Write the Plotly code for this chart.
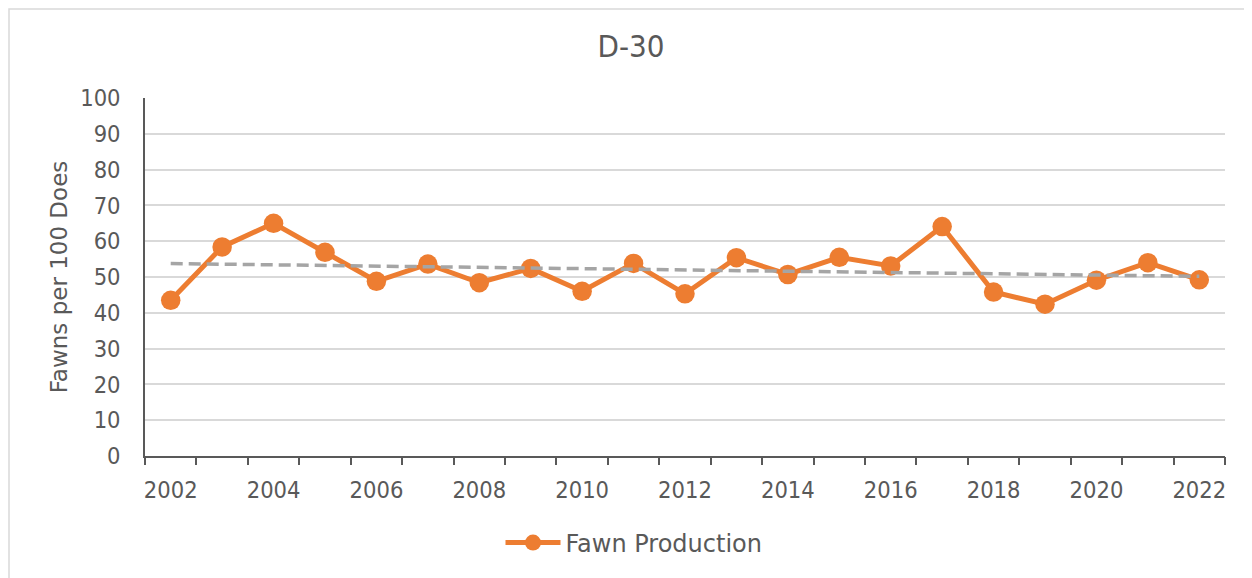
import numpy as np
import plotly.graph_objects as go

years = list(range(2002, 2023))
fawns = [43.5, 58.4, 65.0, 56.9, 48.8, 53.6, 48.4, 52.4, 46.0, 53.8, 45.3,
         55.4, 50.7, 55.5, 53.1, 64.1, 45.8, 42.4, 49.1, 54.0, 49.2]
tick_years = list(range(2002, 2023, 2))
y_ticks = list(range(0, 101, 10))

series_name = "Fawn Production"
chart_title = "D-30"
y_title = "Fawns per 100 Does"

# linear trendline from the data
coef = np.polyfit(years, fawns, 1)
trend = np.polyval(coef, years)

NUMFONT = "DejaVu Sans Condensed, DejaVu Sans, sans-serif"
TXTFONT = "DejaVu Sans, sans-serif"
TXT = "#595959"
ORANGE = "#ED7D31"

# page body has an 8px margin; work in window pixels and compensate
OFF = 8
W, H = 1252 - OFF, 578 - OFF
L, R, T, B = 145 - OFF, 27, 98 - OFF, 122
pw, ph = W - L - R, H - T - B

def px_x(x):
    return (x - OFF - L) / pw

def px_y(y):
    return (H - B - (y - OFF)) / ph

fig = go.Figure()
fig.add_trace(go.Scatter(
    x=years, y=fawns, mode="lines+markers", name=series_name,
    line=dict(color=ORANGE, width=5),
    marker=dict(color=ORANGE, size=19.5),
))
fig.add_trace(go.Scatter(
    x=years, y=trend, mode="lines", showlegend=False, hoverinfo="skip",
    line=dict(color="#A5A5A5", width=3.5, dash="12px,6px"),
))
# invisible trace for overlay axis carrying boundary tick marks
fig.add_trace(go.Scatter(x=[years[0]], y=[0], xaxis="x2", mode="markers",
                         marker=dict(opacity=0), showlegend=False, hoverinfo="skip"))

xr = [years[0] - 0.5, years[-1] + 0.5]
fig.update_layout(
    width=W, height=H,
    margin=dict(l=L, r=R, t=T, b=B),
    paper_bgcolor="white", plot_bgcolor="white",
    font=dict(family=NUMFONT, color=TXT, size=23),
    title=dict(text=chart_title, x=(631 - OFF) / W, xanchor="center",
               y=1 - (46 - OFF) / H, yanchor="middle",
               font=dict(size=31, color=TXT, family=NUMFONT)),
    xaxis=dict(range=xr, tickmode="array", tickvals=tick_years,
               ticktext=[str(t) for t in tick_years], ticks="",
               showgrid=False, showline=True, linecolor="#595959", linewidth=1.5,
               zeroline=False, tickfont=dict(size=23.5, color=TXT, family=NUMFONT),
               ticklabelstandoff=12),
    xaxis2=dict(range=xr, overlaying="x", side="bottom", anchor="y",
                tickmode="array",
                tickvals=[y - 0.5 for y in years] + [years[-1] + 0.5],
                ticks="outside", ticklen=8, tickcolor="#595959", tickwidth=1.5,
                showticklabels=False, showgrid=False, showline=False, zeroline=False),
    yaxis=dict(range=[0, 100], tickmode="array", tickvals=y_ticks,
               showgrid=True, gridcolor="#D9D9D9", gridwidth=1.5,
               showline=True, linecolor="#595959", linewidth=1.5, zeroline=False,
               ticks="", tickfont=dict(size=23.5, color=TXT, family=NUMFONT),
               ticklabelstandoff=18,
               title=dict(text=y_title, font=dict(size=23, color=TXT, family=TXTFONT),
                          standoff=6)),
    legend=dict(orientation="h", x=(634 - OFF) / W, xanchor="center", xref="container",
                y=1 - (543 - OFF) / H, yref="container", yanchor="middle",
                font=dict(size=24, color=TXT, family=TXTFONT), itemwidth=55),
    showlegend=True,
    shapes=[dict(type="rect", xref="paper", yref="paper",
                 x0=px_x(OFF + 1), x1=px_x(1265), y0=px_y(595), y1=px_y(OFF + 1),
                 line=dict(color="#D9D9D9", width=1.5), fillcolor="rgba(0,0,0,0)",
                 layer="below")],
)

fig.write_html("out.html")
